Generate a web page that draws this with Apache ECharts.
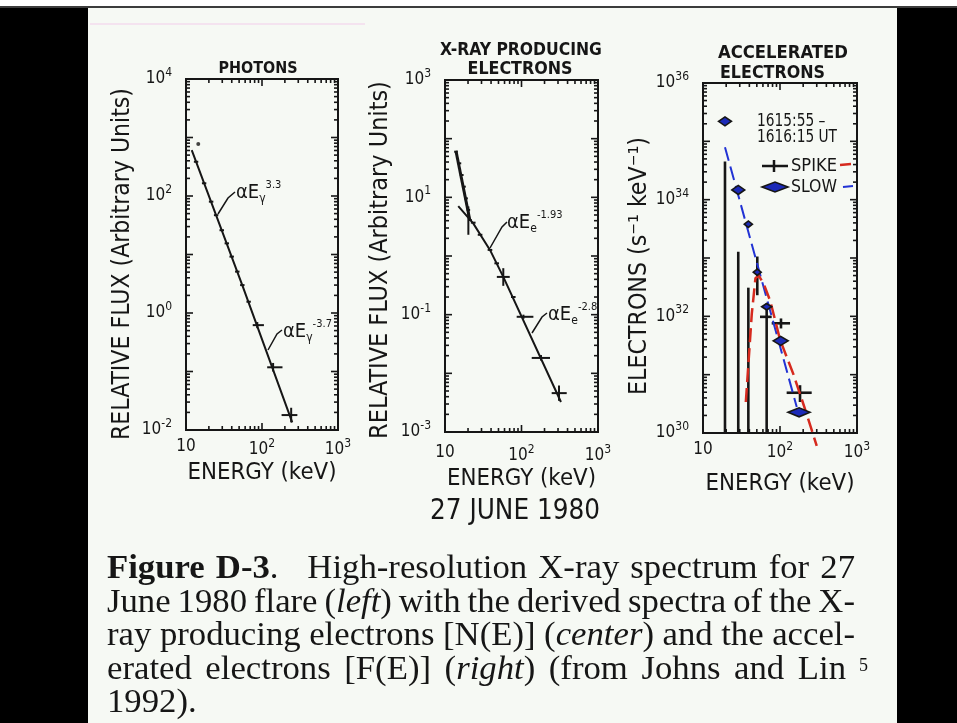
<!DOCTYPE html>
<html><head><meta charset="utf-8">
<script src="https://cdn.jsdelivr.net/npm/echarts@6/dist/echarts.min.js"></script>
<style>html,body{margin:0;padding:0;background:#000;}#c{width:957px;height:723px;}</style>
</head><body><div id="c"></div>
<script>
// ---------------- DATA ----------------
// Panel 1: photons
const photE   = [13.6, 17.3, 21.4, 24.9, 29.5, 34.4, 39.9, 47.3, 55.1, 66.7, 86.7, 140, 242];
const photF   = [385, 165, 80, 47, 26, 15.5, 9.2, 5.1, 3.0, 1.56, 0.62, 0.118, 0.018];
const photELo = [12.7, 16.2, 20.0, 23.3, 27.6, 32.2, 37.3, 44.2, 51.5, 62.4, 75.5, 117, 181];
const photEHi = [14.5, 18.5, 22.9, 26.6, 31.6, 36.8, 42.7, 50.6, 58.9, 71.3, 106, 186, 292];
const photFLo = [385, 165, 80, 47, 26, 15.5, 9.2, 5.1, 3.0, 1.56, 0.55, 0.100, 0.0135];
const photFHi = [385, 165, 80, 47, 26, 15.5, 9.2, 5.1, 3.0, 1.56, 0.70, 0.140, 0.024];
const photDotE = [14.5];
const photDotF = [774];
const photFitE = [11.9, 55, 250];
const photFitF = [610, 3.0, 0.0135];

// Panel 2: X-ray producing electrons
const xrSteepE   = [13.9, 15.4, 16.5, 17.7, 18.8, 20.2, 21.2];
const xrSteepF   = [60, 38, 24, 15.2, 9.6, 6.1, 4.1];
const xrSteepELo = [13.2, 14.6, 15.6, 16.8, 17.8, 19.2, 20.1];
const xrSteepEHi = [14.7, 16.3, 17.5, 18.7, 19.9, 21.3, 22.4];
const xrSteepFLo = [60, 38, 24, 15.2, 9.6, 2.3, 4.1];
const xrSteepFHi = [60, 38, 24, 15.2, 9.6, 7.0, 4.1];
const xrSteepFitE = [13.9, 21.2];
const xrSteepFitF = [62, 4.0];
const xrE   = [23.4, 28.7, 38.7, 47.4, 57.8, 78.1, 106, 180, 309];
const xrF   = [3.7, 2.3, 1.27, 0.75, 0.44, 0.20, 0.092, 0.0183, 0.0046];
const xrELo = [21.8, 26.8, 36.1, 44.2, 47.6, 72.9, 86.5, 136, 248];
const xrEHi = [25.1, 30.8, 41.5, 50.8, 70.2, 83.7, 143, 236, 390];
const xrFLo = [3.7, 2.3, 1.27, 0.75, 0.31, 0.20, 0.085, 0.0165, 0.0034];
const xrFHi = [3.7, 2.3, 1.27, 0.75, 0.62, 0.20, 0.100, 0.0205, 0.0062];
const xrFitE = [14.9, 23.4, 38.7, 57.8, 328];
const xrFitF = [7.1, 3.6, 1.27, 0.44, 0.00325];

// Panel 3: accelerated electrons
const slowE   = [19.3, 28.7, 38.8, 50.7, 67.1, 102, 177];
const slowF   = [2.2e35, 1.47e34, 3.8e33, 5.7e32, 1.46e32, 3.8e31, 2.26e30];
const slowELo = [15.9, 23.7, 34.4, 45.0, 57.8, 81.5, 127];
const slowEHi = [23.4, 34.8, 43.8, 57.0, 77.9, 127.6, 245];
const spikeE   = [19.3, 28.7, 38.8, 50.7, 67.1, 103, 182];
const spikeF   = [4.5e34, 1.28e33, 3.1e32, 5.5e32, 9.8e31, 7.6e31, 4.9e30];
const spikeELo = [19.3, 28.7, 38.8, 48.4, 55, 78, 122];
const spikeEHi = [19.3, 28.7, 38.8, 53.2, 78, 135, 258];
const spikeFLo = [1e30, 1e30, 1e30, 2.3e32, 1e30, 6.2e31, 3.4e30];
const spikeFHi = [4.5e34, 1.28e33, 3.1e32, 1.06e33, 1.67e32, 9.2e31, 6.6e30];
const slowFitE = [19.3, 165];
const slowFitF = [7.9e34, 2.8e30];
const spikeFitE = [36, 43, 48, 53, 62, 75, 100, 150, 220, 300];
const spikeFitF = [3.4e30, 1.1e32, 4.5e32, 5e32, 3.5e32, 1.8e32, 4e31, 1.0e31, 2.2e30, 6e29];

// tick labels (exponents shown)
const xLabelExps = [1, 2, 3];
const yLabelExps = [[-2, 0, 2, 4], [-3, -1, 1, 3], [30, 32, 34, 36]];
const yRanges = [[1e-2, 1e4], [1e-3, 1e3], [1e30, 1e36]];

// ---------------- STYLE / HELPERS ----------------
const INK = '#161616';
const SANS = "'DejaVu Sans Condensed','DejaVu Sans',sans-serif";
const SERIF = "'Liberation Serif','Times New Roman',serif";
const mctx = document.createElement('canvas').getContext('2d');
function tw(text, font) { mctx.font = font; return mctx.measureText(text).width; }
function fit(text, target, weight, fam) { return 100 * target / tw(text, (weight || 'normal') + ' 100px ' + (fam || SANS)); }
const zip = (a, b) => a.map((v, i) => [v, b[i]]);

const grids = [
  {left: 186, top: 79, width: 152, height: 351},
  {left: 445, top: 80, width: 153, height: 352},
  {left: 703, top: 83, width: 154, height: 350}
];

const RICH = {
  b: {fontFamily: SANS, fontSize: 17, color: INK},
  s: {fontFamily: SANS, fontSize: 12, color: INK, padding: [0, 0, 12, 0]}
};
function expLabel(e, isX) { return (isX && e === 1) ? '{b|10}' : '{b|10}{s|' + e + '}'; }

const energySize = fit('ENERGY (keV)', 149);
const xMargins = [8, 12, 8];
const xGaps = [31, 35, 39];

function xAxisFor(gi) {
  return {
    gridIndex: gi, type: 'log', logBase: 10, min: 10, max: 1000, interval: 1,
    axisLine: {show: false}, axisTick: {show: false}, splitLine: {show: false},
    axisLabel: {margin: xMargins[gi], rich: RICH,
      formatter: v => { const e = Math.round(Math.log10(v)); return xLabelExps.includes(e) ? expLabel(e, true) : ''; }},
    name: 'ENERGY (keV)', nameLocation: 'middle', nameGap: xGaps[gi],
    nameTextStyle: {fontFamily: SANS, fontSize: energySize, color: INK}
  };
}
function yAxisFor(gi) {
  return {
    gridIndex: gi, type: 'log', logBase: 10, min: yRanges[gi][0], max: yRanges[gi][1], interval: 1,
    axisLine: {show: false}, axisTick: {show: false}, splitLine: {show: false},
    axisLabel: {margin: 14, rich: RICH,
      formatter: v => { const e = Math.round(Math.log10(v)); return yLabelExps[gi].includes(e) ? expLabel(e, false) : ''; }}
  };
}

// tick marks on all four sides (log minor ticks)
function tickData(gi) {
  const d = [];
  const y0 = yRanges[gi][0], x0 = 10;
  const ly0 = Math.round(Math.log10(yRanges[gi][0])), ly1 = Math.round(Math.log10(yRanges[gi][1]));
  for (let e = 1; e <= 3; e++) {
    d.push([Math.pow(10, e), y0, 0, 1]);
    if (e < 3) for (let k = 2; k <= 9; k++) d.push([k * Math.pow(10, e), y0, 0, 0]);
  }
  for (let e = ly0; e <= ly1; e++) {
    d.push([x0, Math.pow(10, e), 1, 1]);
    if (e < ly1) for (let k = 2; k <= 9; k++) d.push([x0, k * Math.pow(10, e), 1, 0]);
  }
  return d;
}
function ln(x1, y1, x2, y2, w, c) { return {type: 'line', shape: {x1, y1, x2, y2}, style: {stroke: c || INK, lineWidth: w || 1.6}}; }
function tickSeries(gi) {
  return {
    type: 'custom', xAxisIndex: gi, yAxisIndex: gi, silent: true, animation: false,
    data: tickData(gi),
    renderItem(params, api) {
      const cs = params.coordSys;
      const p = api.coord([api.value(0), api.value(1)]);
      const L = api.value(3) ? 7 : 4;
      if (api.value(2) === 0) {
        const x = p[0];
        return {type: 'group', children: [ln(x, cs.y + cs.height, x, cs.y + cs.height - L), ln(x, cs.y, x, cs.y + L)]};
      }
      const y = p[1];
      return {type: 'group', children: [ln(cs.x, y, cs.x + L, y), ln(cs.x + cs.width, y, cs.x + cs.width - L, y)]};
    }
  };
}
function crossSeries(gi, E, F, ELo, EHi, FLo, FHi, w) {
  return {
    type: 'custom', xAxisIndex: gi, yAxisIndex: gi, silent: true, animation: false, clip: false,
    data: E.map((e, i) => [e, F[i], ELo[i], EHi[i], FLo[i], FHi[i]]),
    renderItem(params, api) {
      const c = api.coord([api.value(0), api.value(1)]);
      const l = api.coord([api.value(2), api.value(1)]);
      const r = api.coord([api.value(3), api.value(1)]);
      const b = api.coord([api.value(0), api.value(4)]);
      const t = api.coord([api.value(0), api.value(5)]);
      const ch = [];
      if (r[0] - l[0] > 0.5) ch.push(ln(l[0], c[1], r[0], c[1], w || 2));
      if (b[1] - t[1] > 0.5) ch.push(ln(c[0], t[1], c[0], b[1], w || 2));
      return {type: 'group', children: ch};
    }
  };
}
function diamondSeries(gi, E, F, ELo, EHi) {
  return {
    type: 'custom', xAxisIndex: gi, yAxisIndex: gi, silent: true, animation: false, z: 5,
    data: E.map((e, i) => [e, F[i], ELo[i], EHi[i]]),
    renderItem(params, api) {
      const c = api.coord([api.value(0), api.value(1)]);
      const l = api.coord([api.value(2), api.value(1)]);
      const r = api.coord([api.value(3), api.value(1)]);
      const h = (r[0] - l[0]) > 11 ? 4.5 : 3.2;
      return {type: 'polygon', shape: {points: [[l[0], c[1]], [c[0], c[1] - h], [r[0], c[1]], [c[0], c[1] + h]]},
        style: {fill: '#1c2ab8', stroke: INK, lineWidth: 1.6}};
    }
  };
}
function lineSeries(gi, E, F, color, width, type, clip) {
  return {type: 'line', xAxisIndex: gi, yAxisIndex: gi, data: zip(E, F), symbol: 'none', silent: true,
    animation: false, clip: clip !== false, lineStyle: {color, width, type: type || 'solid'}, z: 3};
}

// ---------------- TEXT / GRAPHICS ----------------
const G = [];
G.push({type: 'rect', shape: {x: 0, y: 0, width: 957, height: 6}, style: {fill: '#ffffff'}, z: -5});
G.push({type: 'rect', shape: {x: 0, y: 6, width: 957, height: 2}, style: {fill: '#3c3c3c'}, z: -5});
G.push({type: 'rect', shape: {x: 0, y: 8, width: 88, height: 715}, style: {fill: '#000'}, z: -5});
G.push({type: 'rect', shape: {x: 897, y: 8, width: 60, height: 715}, style: {fill: '#000'}, z: -5});
G.push({type: 'line', shape: {x1: 90, y1: 24, x2: 365, y2: 24}, style: {stroke: '#f2cdea', lineWidth: 1}, z: -4});

function txt(text, x, y, size, opt) {
  opt = opt || {};
  return {type: 'text', x, y, rotation: opt.rot || 0, scaleX: opt.sx || 1, scaleY: opt.sy || 1, z: 10, silent: true,
    style: {text, fill: opt.fill || INK, fontFamily: opt.fam || SANS, fontSize: size, fontWeight: opt.weight || 'normal',
      fontStyle: opt.style || 'normal', align: opt.align || 'center', verticalAlign: opt.va || 'middle', rich: opt.rich}};
}
const tb = 'bold';
G.push(txt('PHOTONS', 258, 69, fit('PHOTONS', 79, tb), {weight: tb}));
G.push(txt('X-RAY PRODUCING', 521, 50, fit('X-RAY PRODUCING', 162, tb), {weight: tb}));
G.push(txt('ELECTRONS', 520, 69, fit('ELECTRONS', 105, tb), {weight: tb}));
G.push(txt('ACCELERATED', 718, 53, fit('ACCELERATED', 130, tb), {weight: tb, align: 'left'}));
G.push(txt('ELECTRONS', 720, 73, fit('ELECTRONS', 105, tb), {weight: tb, align: 'left'}));
const yt1 = 'RELATIVE FLUX (Arbitrary Units)';
G.push(txt(yt1, 123, 264, fit(yt1, 352), {rot: Math.PI / 2}));
G.push(txt(yt1, 381, 260, fit(yt1, 358), {rot: Math.PI / 2}));
const yt3 = 'ELECTRONS (s⁻¹ keV⁻¹)';
G.push(txt(yt3, 640, 266, fit(yt3, 258), {rot: Math.PI / 2}));
G.push(txt('27 JUNE 1980', 515, 512, fit('27 JUNE 1980', 170), {}));

const AR = {
  a: {fontFamily: SANS, fontSize: 20, color: INK},
  d: {fontFamily: SANS, fontSize: 12, color: INK, padding: [12, 0, 0, 0]},
  u: {fontFamily: SANS, fontSize: 11, color: INK, padding: [0, 0, 15, 0]}
};
function ann(x, y, sub, sup) { return txt('{a|αE}{d|' + sub + '}{u|' + sup + '}', x, y, 20, {align: 'left', rich: AR}); }
G.push(ann(236, 193, 'γ', '3.3'));
G.push(ann(283, 332, 'γ', '-3.7'));
G.push(ann(507, 223, 'e', '-1.93'));
G.push(ann(548, 315, 'e', '-2.8'));
function leader(pts) { return {type: 'polyline', shape: {points: pts}, style: {stroke: INK, lineWidth: 1.5, fill: null}, z: 10, silent: true}; }
G.push(leader([[218, 214], [228, 198], [235, 192]]));
G.push(leader([[268, 350], [277, 334], [282, 330]]));
G.push(leader([[490, 248], [502, 227], [507, 222]]));
G.push(leader([[532, 333], [542, 317], [547, 313]]));

// legend in panel 3 (narrow lettering: compress horizontally)
const lgS = 17;
const lgSx = 80 / tw('1616:15 UT', lgS + 'px ' + SANS);
G.push(txt('1615:55 –', 757, 122, lgS, {align: 'left', sx: lgSx}));
G.push(txt('1616:15 UT', 757, 138, lgS, {align: 'left', sx: lgSx}));
G.push({type: 'line', shape: {x1: 762, y1: 166, x2: 788, y2: 166}, style: {stroke: INK, lineWidth: 2.5}, z: 10});
G.push({type: 'line', shape: {x1: 774, y1: 160, x2: 774, y2: 172}, style: {stroke: INK, lineWidth: 2.5}, z: 10});
G.push(txt('SPIKE', 791, 167, lgS, {align: 'left', sx: 46 / tw('SPIKE', lgS + 'px ' + SANS)}));
G.push({type: 'line', shape: {x1: 840, y1: 165, x2: 851, y2: 164}, style: {stroke: '#d62a1e', lineWidth: 2.5}, z: 10});
G.push({type: 'polygon', shape: {points: [[762, 187], [775, 182], [788, 187], [775, 192]]}, style: {fill: '#1c2ab8', stroke: INK, lineWidth: 1.6}, z: 10});
G.push(txt('SLOW', 791, 188, lgS, {align: 'left', sx: 46 / tw('SLOW', lgS + 'px ' + SANS)}));
G.push({type: 'line', shape: {x1: 843, y1: 187, x2: 853, y2: 186}, style: {stroke: '#2233d4', lineWidth: 2}, z: 10});

// caption (justified serif text, slightly compressed horizontally like the scan)
const capLines = [
  ['**Figure**', '**D-3**.', '|', 'High-resolution', 'X-ray', 'spectrum', 'for', '27'],
  ['June', '1980', 'flare', '(*left*)', 'with', 'the', 'derived', 'spectra', 'of', 'the', 'X-'],
  ['ray', 'producing', 'electrons', '[N(E)]', '(*center*)', 'and', 'the', 'accel-'],
  ['erated', 'electrons', '[F(E)]', '(*right*)', '(from', 'Johns', 'and', 'Lin'],
  ['1992).']
];
const capRight = [855, 855, 855, 846, null];
const capY = [569, 603, 636, 670, 703];
function segs(w) {
  const out = []; const re = /\*\*(.+?)\*\*|\*(.+?)\*|([^*]+)/g; let m;
  while ((m = re.exec(w))) { if (m[1]) out.push([m[1], 'b']); else if (m[2]) out.push([m[2], 'i']); else out.push([m[3], 'r']); }
  return out;
}
function cfont(s, size) { return (s === 'b' ? 'bold ' : s === 'i' ? 'italic ' : '') + size + 'px ' + SERIF; }
function wordW(w, size) { return segs(w).reduce((a, s) => a + tw(s[0], cfont(s[1], size)), 0); }
function natW(line, size) {
  const words = line.filter(w => w !== '|');
  return words.reduce((a, w) => a + wordW(w, size), 0) + (words.length - 1) * 0.8 * tw(' ', cfont('r', size));
}
const capSize = 34;
const capSx = 748 / Math.max(natW(capLines[1], capSize), natW(capLines[2], capSize));
const capRich = {
  r: {fontFamily: SERIF, fontSize: capSize, color: '#111'},
  b: {fontFamily: SERIF, fontSize: capSize, fontWeight: 'bold', color: '#111'},
  i: {fontFamily: SERIF, fontSize: capSize, fontStyle: 'italic', color: '#111'}
};
capLines.forEach((line, li) => {
  const words = []; const wts = [];
  line.forEach(w => { if (w === '|') { wts[wts.length - 1] += 1.6; } else { words.push(w); wts.push(1); } });
  wts.pop();
  const widths = words.map(w => wordW(w, capSize) * capSx);
  const total = widths.reduce((a, b) => a + b, 0);
  let unit = tw(' ', cfont('r', capSize)) * capSx;
  if (capRight[li] != null) unit = (capRight[li] - 107 - total) / wts.reduce((a, b) => a + b, 0);
  let x = 107;
  words.forEach((w, i) => {
    const rt = segs(w).map(s => '{' + s[1] + '|' + s[0] + '}').join('');
    G.push(txt(rt, x, capY[li], capSize, {align: 'left', rich: capRich, fam: SERIF, sx: capSx}));
    x += widths[i] + (i < wts.length ? wts[i] * unit : 0);
  });
});
G.push(txt('5', 859, 666, 18, {align: 'left', fam: SERIF, fill: '#111'}));

// ---------------- CHART ----------------
const chart = echarts.init(document.getElementById('c'), null, {renderer: 'canvas', width: 957, height: 723});
chart.setOption({
  animation: false,
  backgroundColor: '#f6f9f4',
  grid: grids.map(g => Object.assign({show: true, borderColor: INK, borderWidth: 2, backgroundColor: 'transparent', containLabel: false}, g)),
  xAxis: [0, 1, 2].map(xAxisFor),
  yAxis: [0, 1, 2].map(yAxisFor),
  series: [
    tickSeries(0), tickSeries(1), tickSeries(2),
    lineSeries(0, photFitE, photFitF, INK, 2),
    crossSeries(0, photE, photF, photELo, photEHi, photFLo, photFHi, 2),
    {type: 'scatter', xAxisIndex: 0, yAxisIndex: 0, data: zip(photDotE, photDotF), symbolSize: 4, itemStyle: {color: INK}, silent: true},
    lineSeries(1, xrSteepFitE, xrSteepFitF, INK, 3),
    crossSeries(1, xrSteepE, xrSteepF, xrSteepELo, xrSteepEHi, xrSteepFLo, xrSteepFHi, 2),
    lineSeries(1, xrFitE, xrFitF, INK, 2),
    crossSeries(1, xrE, xrF, xrELo, xrEHi, xrFLo, xrFHi, 2),
    lineSeries(2, slowFitE, slowFitF, '#2233d4', 2, [14, 6]),
    lineSeries(2, spikeFitE, spikeFitF, '#d62a1e', 2.5, [14, 6], false),
    crossSeries(2, spikeE, spikeF, spikeELo, spikeEHi, spikeFLo, spikeFHi, 2.6),
    diamondSeries(2, slowE, slowF, slowELo, slowEHi)
  ],
  graphic: {elements: G}
});
</script></body></html>
